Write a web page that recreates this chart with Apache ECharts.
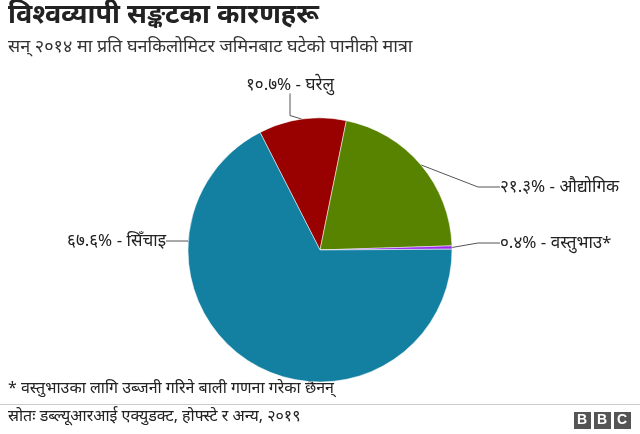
<!DOCTYPE html>
<html><head><meta charset="utf-8">
<script src="https://cdn.jsdelivr.net/npm/echarts@6/dist/echarts.min.js"></script>
<style>body{margin:0;background:#fff}#c{width:640px;height:434px}</style>
</head><body><div id="c"></div>
<script>
const categories = ['घरेलु', 'औद्योगिक', 'वस्तुभाउ*', 'सिँचाइ'];
const values = [10.7, 21.3, 0.4, 67.6];
const valueLabels = ['१०.७%', '२१.३%', '०.४%', '६७.६%'];
const colors = ['#990000', '#588300', '#9C27F0', '#1380A1'];
const ch = echarts.init(document.getElementById('c'));
const F = "'Noto Sans', sans-serif";
const labelPos = [
  {x:290, y:85, align:'center', verticalAlign:'middle'},
  {x:500, y:187, align:'left', verticalAlign:'middle'},
  {x:500, y:243, align:'left', verticalAlign:'middle'},
  {x:166, y:241, align:'right', verticalAlign:'middle'}
];
ch.setOption({
  animation: false,
  graphic: [
    {type:'text', left:8, top:2, style:{text:'विश्वव्यापी सङ्कटका कारणहरू', font:'bold 27px '+F, fill:'#222'}},
    {type:'text', left:8, top:38, style:{text:'सन् २०१४ मा प्रति घनकिलोमिटर जमिनबाट घटेको पानीको मात्रा', font:'18px '+F, fill:'#333'}},
    {type:'text', left:8, top:380, style:{text:'* वस्तुभाउका लागि उब्जनी गरिने बाली गणना गरेका छैनन्', font:'16px '+F, fill:'#222'}},
    {type:'rect', shape:{x:0,y:404,width:640,height:1}, style:{fill:'#ccc'}},
    {type:'text', left:8, top:408, style:{text:'स्रोतः डब्ल्यूआरआई एक्युडक्ट, होफ्स्टे र अन्य, २०१९', font:'16px '+F, fill:'#222'}},
    {type:'group', left:574, top:412, children:[
      {type:'rect', shape:{x:0,y:0,width:17,height:17}, style:{fill:'#555'}},
      {type:'rect', shape:{x:20,y:0,width:17,height:17}, style:{fill:'#555'}},
      {type:'rect', shape:{x:40,y:0,width:17,height:17}, style:{fill:'#555'}},
      {type:'text', x:3, y:1, style:{text:'B', font:'bold 14px Arial', fill:'#fff'}},
      {type:'text', x:23, y:1, style:{text:'B', font:'bold 14px Arial', fill:'#fff'}},
      {type:'text', x:43, y:1, style:{text:'C', font:'bold 14px Arial', fill:'#fff'}}
    ]}
  ],
  series: [{
    type:'pie', center:[320,250], radius:132, startAngle:117, clockwise:true,
    itemStyle:{borderColor:'#fff', borderWidth:0.5},
    label:{show:true, color:'#222', fontSize:17, fontFamily:F,
      formatter: p => valueLabels[p.dataIndex] + ' - ' + p.name},
    labelLine:{show:true, length:14, length2:22, lineStyle:{color:'#555', width:1}},
    labelLayout: p => labelPos[p.dataIndex],
    data: categories.map((c,i)=>({name:c, value:values[i], itemStyle:{color:colors[i]}}))
  }]
});
</script></body></html>
